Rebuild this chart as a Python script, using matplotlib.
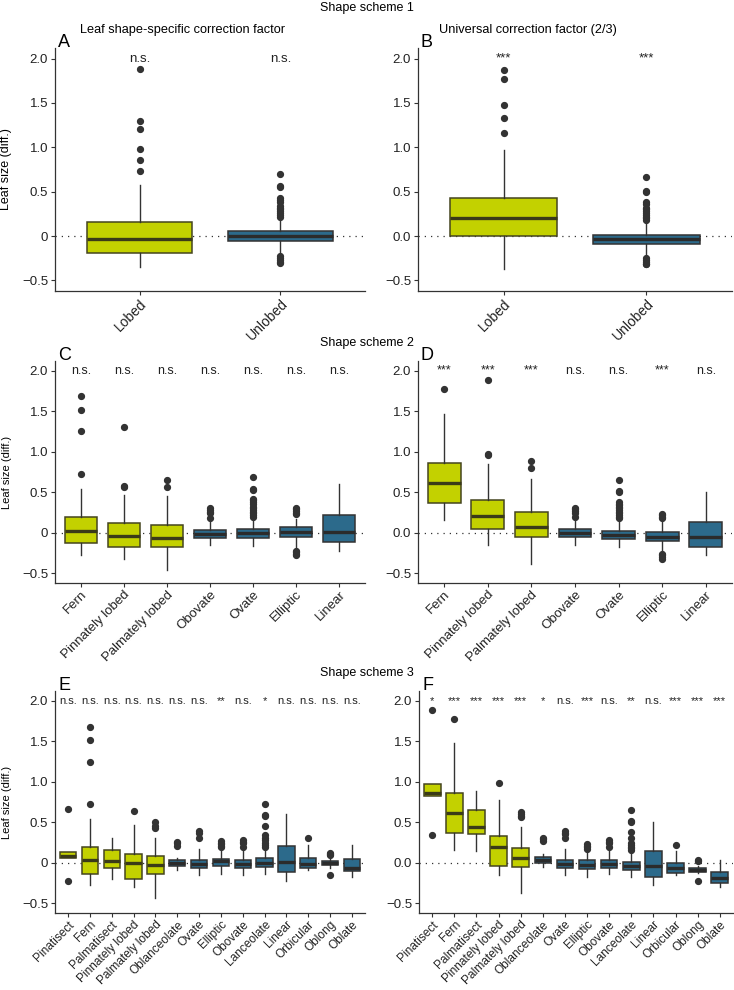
import matplotlib
matplotlib.use("Agg")
import matplotlib.pyplot as plt
from matplotlib.ticker import FixedLocator, FixedFormatter

plt.rcParams['font.family'] = ['Liberation Sans', 'DejaVu Sans']

YELLOW = '#c3d100'
BLUE = '#2c6a8b'

# ---- data ----
cats1 = ["Lobed", "Unlobed"]
cats2 = ["Fern", "Pinnately lobed", "Palmately lobed", "Obovate", "Ovate", "Elliptic", "Linear"]
cats3 = ["Pinatisect", "Fern", "Palmatisect", "Pinnately lobed", "Palmately lobed", "Oblanceolate",
         "Ovate", "Elliptic", "Obovate", "Lanceolate", "Linear", "Orbicular", "Oblong", "Oblate"]
n_lobed = {1: 1, 2: 3, 3: 5}  # how many categories are lobed (yellow)

# panel A - shape-specific, scheme 1
A_q1 = [-0.19, -0.06]
A_med = [-0.035, 0.0]
A_q3 = [0.155, 0.055]
A_lo = [-0.35, -0.22]
A_hi = [0.58, 0.20]
A_out = [[1.88, 1.30, 1.21, 0.98, 0.86, 0.73],
         [0.70, 0.56, 0.55, 0.43, 0.41, 0.38, 0.34, 0.32, 0.30, 0.28, 0.26, 0.24, 0.22,
          -0.23, -0.25, -0.27, -0.29, -0.30]]
A_sig = ["n.s.", "n.s."]

# panel B - universal 2/3, scheme 1
B_q1 = [0.005, -0.087]
B_med = [0.20, -0.03]
B_q3 = [0.43, 0.015]
B_lo = [-0.37, -0.22]
B_hi = [0.97, 0.17]
B_out = [[1.87, 1.77, 1.48, 1.33, 1.165],
         [0.66, 0.51, 0.50, 0.38, 0.36, 0.32, 0.30, 0.28, 0.26, 0.24, 0.22, 0.20, 0.18,
          -0.25, -0.27, -0.29, -0.31, -0.32]]
B_sig = ["***", "***"]

# panel C - shape-specific, scheme 2
C_q1 = [-0.13, -0.17, -0.17, -0.06, -0.06, -0.05, -0.11]
C_med = [0.02, -0.04, -0.07, -0.01, 0.0, 0.01, 0.01]
C_q3 = [0.20, 0.125, 0.10, 0.04, 0.045, 0.07, 0.215]
C_lo = [-0.28, -0.32, -0.46, -0.15, -0.16, -0.20, -0.23]
C_hi = [0.54, 0.47, 0.456, 0.14, 0.19, 0.17, 0.60]
C_out = [[1.69, 1.52, 1.25, 0.72],
         [1.30, 0.58, 0.57],
         [0.65, 0.56],
         [0.30, 0.28, 0.26, 0.25, 0.18],
         [0.69, 0.54, 0.53, 0.42, 0.40, 0.38, 0.35, 0.32, 0.30, 0.28, 0.26, 0.24, 0.22, 0.20],
         [0.30, 0.29, 0.27, 0.25, 0.23, -0.22, -0.24, -0.26, -0.28],
         []]
C_sig = ["n.s."] * 7

# panel D - universal 2/3, scheme 2
D_q1 = [0.37, 0.045, -0.054, -0.054, -0.08, -0.10, -0.17]
D_med = [0.62, 0.21, 0.075, 0.0, -0.03, -0.05, -0.054]
D_q3 = [0.855, 0.40, 0.26, 0.045, 0.02, 0.012, 0.135]
D_lo = [0.16, -0.15, -0.38, -0.15, -0.18, -0.24, -0.28]
D_hi = [1.47, 0.845, 0.66, 0.15, 0.16, 0.17, 0.50]
D_out = [[1.77],
         [1.88, 0.97, 0.96],
         [0.89, 0.80],
         [0.31, 0.29, 0.27, 0.25, 0.19],
         [0.655, 0.51, 0.50, 0.38, 0.36, 0.34, 0.32, 0.30, 0.28, 0.26, 0.24, 0.22, 0.20, 0.18],
         [0.23, 0.22, 0.20, 0.18, -0.26, -0.28, -0.30, -0.32],
         []]
D_sig = ["***", "***", "***", "n.s.", "n.s.", "***", "n.s."]

# panel E - shape-specific, scheme 3
E_q1 = [0.054, -0.136, -0.062, -0.20, -0.136, -0.04, -0.062, -0.045, -0.062, -0.058, -0.116, -0.07, -0.033, -0.107]
E_med = [0.083, 0.03, 0.017, 0.0, -0.033, 0.0, -0.012, 0.017, -0.016, 0.0, 0.008, -0.017, -0.004, -0.066]
E_q3 = [0.136, 0.20, 0.157, 0.11, 0.08, 0.03, 0.037, 0.05, 0.037, 0.062, 0.21, 0.054, 0.017, 0.045]
E_lo = [0.054, -0.28, -0.20, -0.30, -0.43, -0.09, -0.157, -0.14, -0.15, -0.14, -0.23, -0.095, -0.06, -0.178]
E_hi = [0.136, 0.54, 0.31, 0.47, 0.31, 0.06, 0.165, 0.15, 0.15, 0.17, 0.60, 0.215, 0.05, 0.22]
E_out = [[0.66, -0.227],
         [1.68, 1.51, 1.24, 0.72],
         [],
         [0.64],
         [0.50, 0.455, 0.43],
         [0.26, 0.24, 0.21],
         [0.39, 0.37, 0.31],
         [0.27, 0.25, 0.23, 0.21, 0.19],
         [0.28, 0.26, 0.24, 0.19],
         [0.73, 0.59, 0.58, 0.45, 0.34, 0.31, 0.28, 0.25, 0.22, 0.20],
         [],
         [0.30],
         [0.12, 0.11, 0.10, -0.157],
         []]
E_sig = ["n.s."] * 7 + ["**", "n.s.", "*"] + ["n.s."] * 4

# panel F - universal 2/3, scheme 3
F_q1 = [0.83, 0.37, 0.35, -0.037, -0.058, 0.0, -0.062, -0.074, -0.062, -0.095, -0.17, -0.128, -0.116, -0.25]
F_med = [0.855, 0.62, 0.44, 0.20, 0.062, 0.04, -0.012, -0.03, -0.016, -0.04, -0.045, -0.066, -0.087, -0.194]
F_q3 = [0.967, 0.855, 0.65, 0.33, 0.178, 0.07, 0.037, 0.03, 0.037, 0.012, 0.14, -0.008, -0.066, -0.116]
F_lo = [0.83, 0.16, 0.15, -0.15, -0.376, -0.054, -0.157, -0.17, -0.14, -0.17, -0.27, -0.15, -0.13, -0.30]
F_hi = [0.967, 1.475, 0.88, 0.77, 0.44, 0.11, 0.165, 0.15, 0.15, 0.15, 0.50, 0.14, -0.04, 0.03]
F_out = [[1.88, 0.34],
         [1.77],
         [],
         [0.98],
         [0.63, 0.60, 0.58, 0.57],
         [0.31, 0.29, 0.27],
         [0.39, 0.37, 0.35, 0.31],
         [0.23, 0.21, 0.19, 0.17],
         [0.28, 0.26, 0.24, 0.19],
         [0.65, 0.52, 0.50, 0.38, 0.31, 0.25, 0.22, 0.20, 0.18, 0.16],
         [],
         [0.215],
         [0.03, 0.02, -0.22],
         []]
F_sig = ["*", "***", "***", "***", "***", "*", "n.s.", "***", "n.s.", "**", "n.s.", "***", "***", "***"]


def draw_panel(ax, cats, q1, med, q3, lo, hi, out, sig, nlob, letter, zero_lbl, fs_sig, fs_x):
    stats = []
    for i in range(len(cats)):
        stats.append(dict(med=med[i], q1=q1[i], q3=q3[i], whislo=lo[i], whishi=hi[i],
                          fliers=out[i], label=cats[i]))
    pos = list(range(1, len(cats) + 1))
    ax.axhline(0, color='#333333', lw=0.9, ls=(0, (1, 4)), zorder=1)
    bp = ax.bxp(stats, positions=pos, widths=0.75, patch_artist=True, showcaps=False,
                boxprops=dict(lw=1.1),
                whiskerprops=dict(color='#333333', lw=1.0),
                medianprops=dict(lw=2.4),
                flierprops=dict(marker='o', markerfacecolor='#333333', markeredgecolor='#333333',
                                markersize=4.2))
    for i, box in enumerate(bp['boxes']):
        if i < nlob:
            box.set_facecolor(YELLOW)
            box.set_edgecolor('#45451f')
            bp['medians'][i].set_color('#3a3a18')
        else:
            box.set_facecolor(BLUE)
            box.set_edgecolor('#333333')
            bp['medians'][i].set_color('#2b2b2b')
        box.set_zorder(2)
    for i, s in enumerate(sig):
        ax.text(pos[i], 2.0, s, ha='center', va='center', fontsize=fs_sig, color='#222222')
    ax.set_xlim(0.4, len(cats) + 0.6)
    ax.set_ylim(-0.62, 2.12)
    ax.yaxis.set_major_locator(FixedLocator([-0.5, 0, 0.5, 1.0, 1.5, 2.0]))
    ax.yaxis.set_major_formatter(FixedFormatter(["\u22120.5", zero_lbl, "0.5", "1.0", "1.5", "2.0"]))
    ax.set_xticks(pos)
    ax.set_xticklabels(cats, rotation=45, ha='right', rotation_mode='anchor', fontsize=fs_x)
    ax.tick_params(axis='y', labelsize=9.5, length=3, color='#333333', labelcolor='#222222', pad=2)
    ax.tick_params(axis='x', length=3, color='#333333', labelcolor='#222222', pad=1)
    for sp in ['top', 'right']:
        ax.spines[sp].set_visible(False)
    for sp in ['left', 'bottom']:
        ax.spines[sp].set_color('#333333')
        ax.spines[sp].set_linewidth(0.9)
    ax.annotate(letter, (0, 1), xycoords='axes fraction', xytext=(3, -3), textcoords='offset pixels',
                ha='left', va='bottom', fontsize=13)


W, H = 734, 990
fig = plt.figure(figsize=(W / 100, H / 100), dpi=100)


def add_ax(l, r, t, b):
    return fig.add_axes([l / W, 1 - b / H, (r - l) / W, (b - t) / H])


axA = add_ax(55, 365, 48, 291)
axB = add_ax(418, 732, 48, 291)
axC = add_ax(55, 365, 361, 583)
axD = add_ax(418, 732, 361, 583)
axE = add_ax(55, 365, 691, 913)
axF = add_ax(419, 733, 691, 913)

draw_panel(axA, cats1, A_q1, A_med, A_q3, A_lo, A_hi, A_out, A_sig, n_lobed[1], "A", "0", 9.5, 10)
draw_panel(axB, cats1, B_q1, B_med, B_q3, B_lo, B_hi, B_out, B_sig, n_lobed[1], "B", "0.0", 9.5, 10)
draw_panel(axC, cats2, C_q1, C_med, C_q3, C_lo, C_hi, C_out, C_sig, n_lobed[2], "C", "0", 9, 9.5)
draw_panel(axD, cats2, D_q1, D_med, D_q3, D_lo, D_hi, D_out, D_sig, n_lobed[2], "D", "0.0", 9, 9.5)
draw_panel(axE, cats3, E_q1, E_med, E_q3, E_lo, E_hi, E_out, E_sig, n_lobed[3], "E", "0", 8, 8.6)
draw_panel(axF, cats3, F_q1, F_med, F_q3, F_lo, F_hi, F_out, F_sig, n_lobed[3], "F", "0.0", 8, 8.6)

axA.set_ylabel("Leaf size (diff.)", fontsize=9, labelpad=7)
axC.set_ylabel("Leaf size (diff.)", fontsize=8, labelpad=7)
axE.set_ylabel("Leaf size (diff.)", fontsize=8, labelpad=7)

fig.text(367 / W, 1 - 8 / H, "Shape scheme 1", ha='center', va='center', fontsize=9)
fig.text(183 / W, 1 - 30 / H, "Leaf shape-specific correction factor", ha='center', va='center', fontsize=9.2)
fig.text(528 / W, 1 - 30 / H, "Universal correction factor (2/3)", ha='center', va='center', fontsize=9.2)
fig.text(367 / W, 1 - 343 / H, "Shape scheme 2", ha='center', va='center', fontsize=9)
fig.text(367 / W, 1 - 673 / H, "Shape scheme 3", ha='center', va='center', fontsize=9)

fig.savefig("out.png", dpi=100, facecolor='white')
